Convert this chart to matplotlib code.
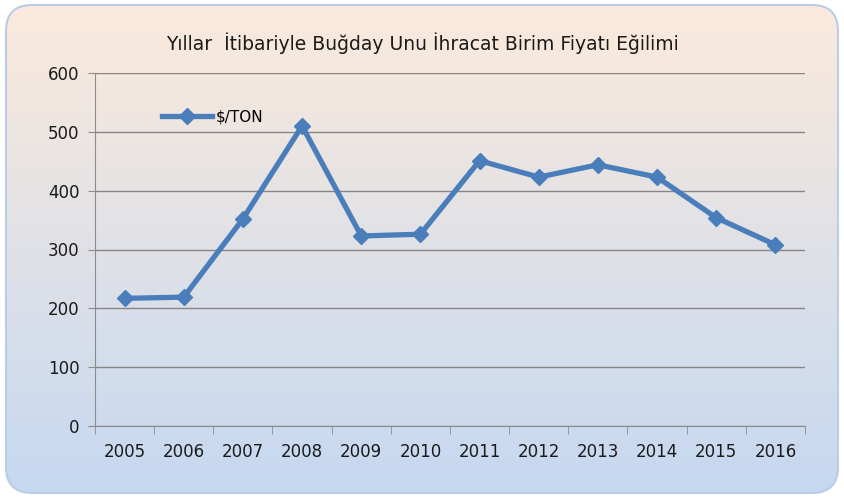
import numpy as np
import matplotlib.pyplot as plt
from matplotlib.patches import FancyBboxPatch

years = ['2005', '2006', '2007', '2008', '2009', '2010',
         '2011', '2012', '2013', '2014', '2015', '2016']
price = [217, 219, 352, 510, 323, 326, 451, 423, 444, 423, 354, 308]

title = 'Yıllar  İtibariyle Buğday Unu İhracat Birim Fiyatı Eğilimi'
fam = ['Liberation Sans Narrow', 'DejaVu Sans']

fig = plt.figure(figsize=(8.45, 5.0), dpi=100)
fig.patch.set_facecolor('white')

# background panel with a vertical gradient (peach -> light blue)
bg = fig.add_axes([0, 0, 1, 1], zorder=-1)
bg.set_xlim(0, 845)
bg.set_ylim(500, 0)
bg.axis('off')
top = np.array([251, 234, 220]) / 255
bot = np.array([197, 216, 241]) / 255
t = np.linspace(0, 1, 256)[:, None]
grad = (top * (1 - t) + bot * t)[:, None, :]
img = bg.imshow(grad, extent=[5, 840, 494, 4], aspect='auto', zorder=0)
box = FancyBboxPatch((6, 5), 832, 488, boxstyle='round,pad=0,rounding_size=26',
                     facecolor='none', edgecolor='#b9cde5', linewidth=1.5, zorder=1)
bg.add_patch(box)
img.set_clip_path(box)

ax = fig.add_axes([95 / 845, 1 - 426 / 500, 710 / 845, 353 / 500])
ax.patch.set_alpha(0)
x = np.arange(len(years))
ax.plot(x, price, color='#4a7ebb', linewidth=3.8, marker='D', markersize=8,
        label='$/TON', zorder=3)

ax.set_xlim(-0.5, len(years) - 0.5)
ax.set_ylim(0, 600)
ax.set_yticks(range(0, 601, 100))
ax.set_xticks(x)
ax.set_xticklabels(years)
ax.set_xticks(np.arange(-0.5, len(years), 1), minor=True)
ax.tick_params(axis='x', which='major', length=0, pad=12)
ax.tick_params(axis='x', which='minor', length=6, color='#8c8c8c', direction='out')
ax.tick_params(axis='y', length=5, color='#8c8c8c', pad=6)
for lab in ax.get_xticklabels() + ax.get_yticklabels():
    lab.set_fontfamily(fam)
    lab.set_fontsize(12)
    lab.set_color('#1a1a1a')

ax.grid(axis='y', color='#868686', linewidth=1)
ax.set_axisbelow(True)
for s in ['top', 'right']:
    ax.spines[s].set_visible(False)
ax.spines['left'].set_color('#8c8c8c')
ax.spines['bottom'].set_color('#8c8c8c')

leg = ax.legend(loc='center left', bbox_to_anchor=(0.075, 0.875), frameon=False,
                prop={'family': fam, 'size': 11}, handlelength=3.3, handletextpad=0.2)

fig.text(0.5, 1 - 43 / 500, title, ha='center', va='center',
         fontsize=13.5, family=fam, color='#1a1a1a')

fig.savefig('out.png', dpi=100)
